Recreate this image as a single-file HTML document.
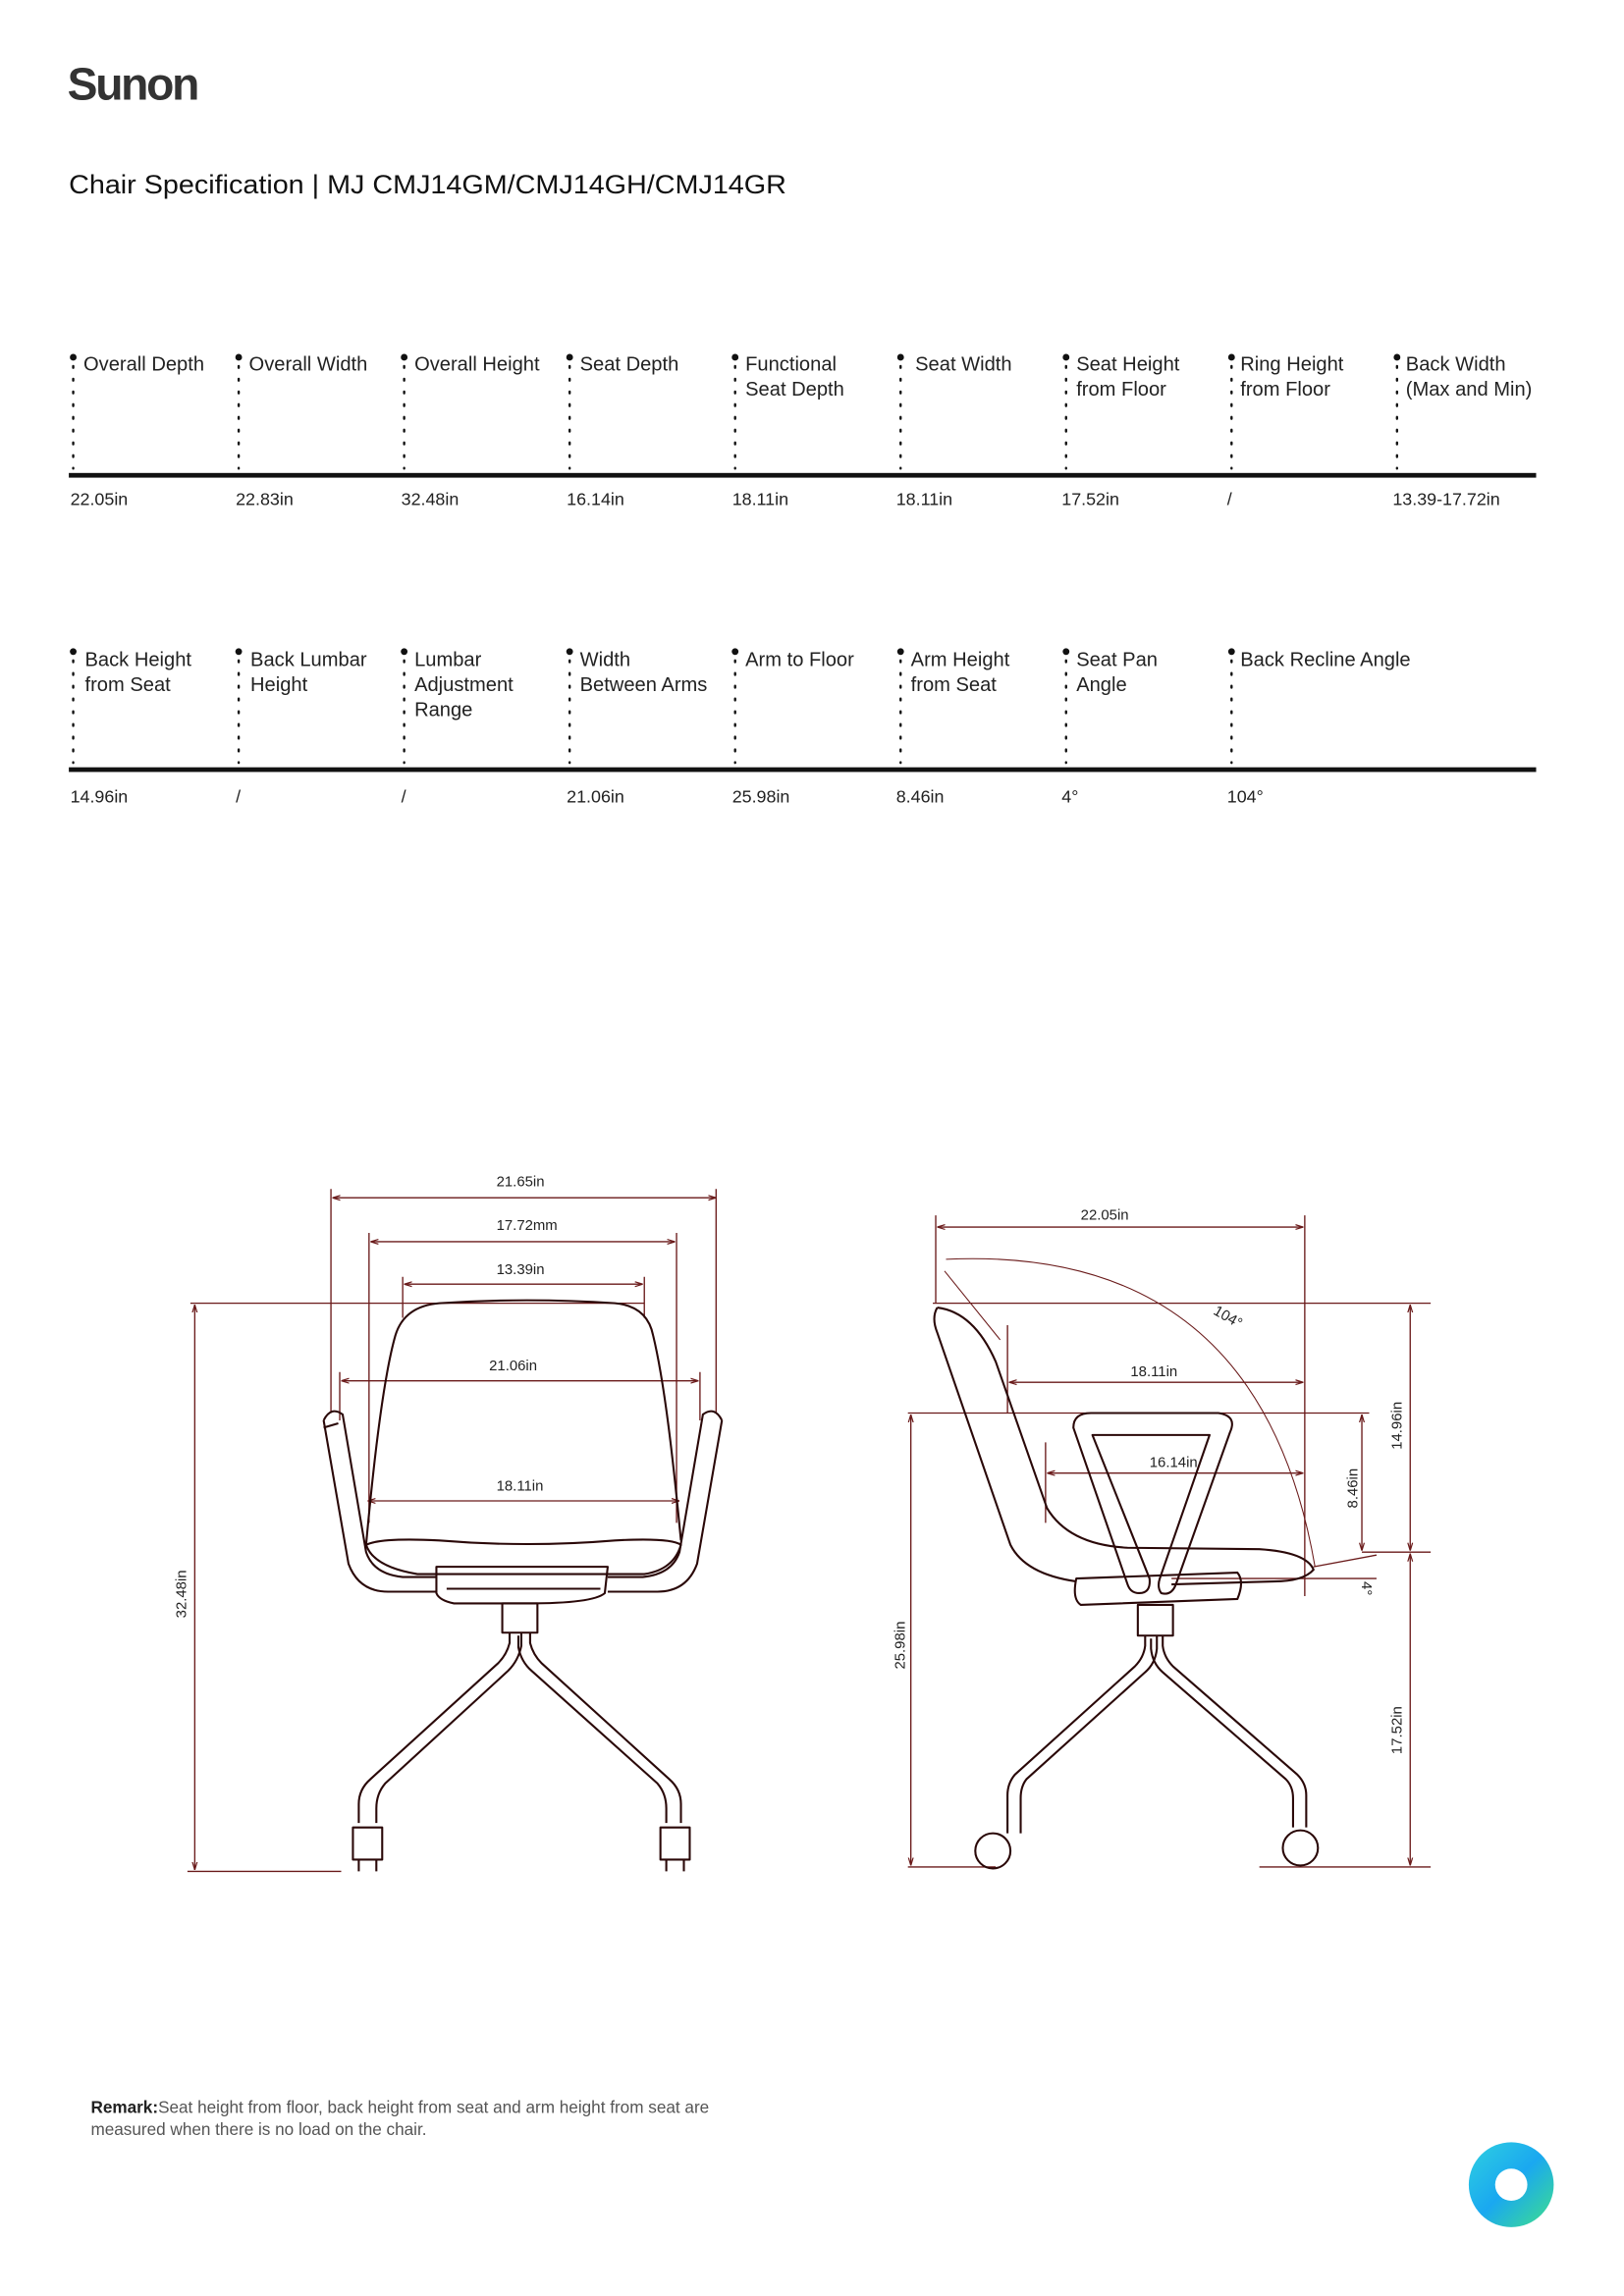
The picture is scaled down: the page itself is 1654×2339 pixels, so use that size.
<!DOCTYPE html>
<html><head><meta charset="utf-8"><style>
html,body{margin:0;padding:0;background:#fff}
svg{display:block}
text{font-family:"Liberation Sans",sans-serif}
</style></head><body>
<svg width="1654" height="2339" viewBox="0 0 1109 1568" preserveAspectRatio="none" xmlns="http://www.w3.org/2000/svg">
<defs>
<marker id="a" viewBox="0 0 10 10" refX="10" refY="5" markerWidth="6" markerHeight="6" orient="auto-start-reverse"><path d="M0,2 L10,5 L0,8" fill="none" stroke="#6a1a1a" stroke-width="1.5"/></marker>
<linearGradient id="g" x1="0" y1="0" x2="1" y2="1"><stop offset="0" stop-color="#2fd0e0"/><stop offset="0.5" stop-color="#1aa8f0"/><stop offset="1" stop-color="#3fe08a"/></linearGradient>
</defs>
<text x="46" y="68" font-size="31" font-weight="bold" fill="#333" letter-spacing="-1.5">Sunon</text>
<text x="47" y="132" font-size="18" fill="#111" textLength="490" lengthAdjust="spacingAndGlyphs">Chair Specification | MJ  CMJ14GM/CMJ14GH/CMJ14GR</text>

<g font-size="13.5" fill="#222">
<text x="57" y="253">Overall Depth</text>
<text x="170" y="253">Overall Width</text>
<text x="283" y="253">Overall Height</text>
<text x="396" y="253">Seat Depth</text>
<text x="509" y="253">Functional</text><text x="509" y="270">Seat Depth</text>
<text x="625" y="253">Seat Width</text>
<text x="735" y="253">Seat Height</text><text x="735" y="270">from Floor</text>
<text x="847" y="253">Ring Height</text><text x="847" y="270">from Floor</text>
<text x="960" y="253">Back Width</text><text x="960" y="270">(Max and Min)</text>
<text x="58" y="455">Back Height</text><text x="58" y="472">from Seat</text>
<text x="171" y="455">Back Lumbar</text><text x="171" y="472">Height</text>
<text x="283" y="455">Lumbar</text><text x="283" y="472">Adjustment</text><text x="283" y="489">Range</text>
<text x="396" y="455">Width</text><text x="396" y="472">Between Arms</text>
<text x="509" y="455">Arm to Floor</text>
<text x="622" y="455">Arm Height</text><text x="622" y="472">from Seat</text>
<text x="735" y="455">Seat Pan</text><text x="735" y="472">Angle</text>
<text x="847" y="455">Back Recline Angle</text>
</g>
<g fill="#111">
<circle cx="50" cy="244" r="2.3"/><circle cx="163" cy="244" r="2.3"/><circle cx="276" cy="244" r="2.3"/><circle cx="389" cy="244" r="2.3"/><circle cx="502" cy="244" r="2.3"/><circle cx="615" cy="244" r="2.3"/><circle cx="728" cy="244" r="2.3"/><circle cx="841" cy="244" r="2.3"/><circle cx="954" cy="244" r="2.3"/>
<circle cx="50" cy="445" r="2.3"/><circle cx="163" cy="445" r="2.3"/><circle cx="276" cy="445" r="2.3"/><circle cx="389" cy="445" r="2.3"/><circle cx="502" cy="445" r="2.3"/><circle cx="615" cy="445" r="2.3"/><circle cx="728" cy="445" r="2.3"/><circle cx="841" cy="445" r="2.3"/>
</g>
<g stroke="#111" stroke-width="1.6" stroke-dasharray="1.2 7.5" stroke-linecap="round">
<path d="M50 250V320M163 250V320M276 250V320M389 250V320M502 250V320M615 250V320M728 250V320M841 250V320M954 250V320"/>
<path d="M50 451V521M163 451V521M276 451V521M389 451V521M502 451V521M615 451V521M728 451V521M841 451V521"/>
</g>
<rect x="47" y="323" width="1002" height="3.2" fill="#111"/>
<rect x="47" y="524" width="1002" height="3.2" fill="#111"/>
<g font-size="12" fill="#222">
<text x="48" y="345">22.05in</text><text x="161" y="345">22.83in</text><text x="274" y="345">32.48in</text><text x="387" y="345">16.14in</text><text x="500" y="345">18.11in</text><text x="612" y="345">18.11in</text><text x="725" y="345">17.52in</text><text x="838" y="345">/</text><text x="951" y="345">13.39-17.72in</text>
<text x="48" y="548">14.96in</text><text x="161" y="548">/</text><text x="274" y="548">/</text><text x="387" y="548">21.06in</text><text x="500" y="548">25.98in</text><text x="612" y="548">8.46in</text><text x="725" y="548">4°</text><text x="838" y="548">104°</text>
</g>

<g stroke="#6a1a1a" stroke-width="0.9" fill="none">
<path d="M226 812V965M489 812V965M252 842V1040M462 842V1040M275 872V900M440 872V900M232 937V970M478 937V970"/>
<path d="M130 890H440M128 1278H233"/>
<path d="M227 818H489" marker-start="url(#a)" marker-end="url(#a)"/>
<path d="M253 848H461" marker-start="url(#a)" marker-end="url(#a)"/>
<path d="M276 877H439" marker-start="url(#a)" marker-end="url(#a)"/>
<path d="M233 943H477" marker-start="url(#a)" marker-end="url(#a)"/>
<path d="M251 1025H464" marker-start="url(#a)" marker-end="url(#a)"/>
<path d="M133 891V1277" marker-start="url(#a)" marker-end="url(#a)"/>
</g>
<g font-size="10" fill="#222">
<text x="339" y="810">21.65in</text><text x="339" y="840">17.72mm</text><text x="339" y="870">13.39in</text><text x="334" y="936">21.06in</text><text x="339" y="1018">18.11in</text>
<text transform="translate(127 1105) rotate(-90)">32.48in</text>
</g>
<g stroke="#2a0808" stroke-width="1.4" fill="none" stroke-linejoin="round">
<path d="M250 1055 C255 1000 262 940 270 912 Q276 892 300 890 Q360 886 420 890 Q442 892 446 912 C454 945 460 1000 465 1052"/>
<path d="M250 1055 Q260 1050 300 1052 Q360 1057 420 1052 Q458 1050 465 1055 Q460 1072 440 1075 L285 1075 Q255 1070 250 1055Z"/>
<path d="M221 970 Q226 960 234 966 L250 1060 Q255 1075 275 1077 L298 1077 M221 970 L238 1068 Q245 1087 265 1087 L298 1087"/>
<path d="M221 975 L231 972"/>
<path d="M493 970 Q488 960 480 966 L464 1060 Q459 1075 439 1077 L415 1077 M493 970 L476 1068 Q469 1087 449 1087 L415 1087"/>
<path d="M298 1070 L415 1070 L413 1088 Q405 1095 360 1095 L310 1095 Q300 1093 298 1088Z M305 1085 L410 1085"/>
<path d="M343 1095 H367 V1115 H343Z"/>
<path d="M348 1115 L348 1122 Q346 1130 340 1136 L253 1215 Q245 1222 245 1232 L245 1245 M356 1115 L356 1124 Q354 1134 347 1141 L263 1218 Q257 1225 257 1235 L257 1245"/>
<path d="M362 1115 L362 1122 Q364 1130 370 1136 L457 1215 Q465 1222 465 1232 L465 1245 M354 1117 L354 1125 Q356 1135 363 1141 L449 1218 Q455 1225 455 1235 L455 1245"/>
<path d="M241 1248 H261 V1270 H241Z M245 1270 V1278 M257 1270 V1278"/>
<path d="M451 1248 H471 V1270 H451Z M455 1270 V1278 M467 1270 V1278"/>
</g>

<g stroke="#6a1a1a" stroke-width="0.9" fill="none">
<path d="M639 830V890M891 830V1090M688 905V965M714 985V1040"/>
<path d="M637 890H977M620 965H935M930 1060H977M620 1275H680M860 1275H977"/>
<path d="M640 838H890" marker-start="url(#a)" marker-end="url(#a)"/>
<path d="M689 944H890" marker-start="url(#a)" marker-end="url(#a)"/>
<path d="M715 1006H890" marker-start="url(#a)" marker-end="url(#a)"/>
<path d="M963 891V1059" marker-start="url(#a)" marker-end="url(#a)"/>
<path d="M963 1061V1274" marker-start="url(#a)" marker-end="url(#a)"/>
<path d="M930 966V1059" marker-start="url(#a)" marker-end="url(#a)"/>
<path d="M622 966V1274" marker-start="url(#a)" marker-end="url(#a)"/>
<path d="M646 860 Q860 850 898 1070" stroke-width="0.7"/>
<path d="M645 868 L683 915" stroke-width="0.7"/>
<path d="M897 1070 L940 1062 M800 1078 L940 1078"/>
</g>
<g font-size="10" fill="#222">
<text x="738" y="833">22.05in</text><text x="772" y="940">18.11in</text><text x="785" y="1002">16.14in</text>
<text transform="translate(828 897) rotate(30)">104°</text>
<text transform="translate(957 990) rotate(-90)">14.96in</text>
<text transform="translate(927 1030) rotate(-90)">8.46in</text>
<text transform="translate(957 1198) rotate(-90)">17.52in</text>
<text transform="translate(618 1140) rotate(-90)">25.98in</text>
<text transform="translate(930 1080) rotate(90)">4°</text>
</g>
<g stroke="#2a0808" stroke-width="1.4" fill="none" stroke-linejoin="round">
<path d="M640 893 Q636 900 640 910 L690 1055 Q700 1075 735 1080"/>
<path d="M640 893 Q665 896 680 930 L715 1030 Q730 1055 770 1057 L860 1058 Q892 1060 897 1072 Q890 1080 870 1080 L800 1082"/>
<path d="M733 975 Q733 965 745 965 L832 965 Q845 967 840 978 L803 1082 Q800 1090 793 1088 Q790 1084 792 1078 L826 980 L746 980 L785 1078 Q786 1088 778 1088 Q772 1088 770 1082 Z"/>
<path d="M735 1078 L845 1074 Q850 1080 845 1092 L738 1096 Q732 1092 735 1078Z"/>
<path d="M777 1096 H801 V1117 H777Z"/>
<path d="M782 1117 V1124 Q781 1132 775 1138 L693 1212 Q688 1218 688 1226 V1252 M790 1117 V1126 Q789 1136 782 1142 L701 1215 Q697 1220 697 1228 V1252"/>
<path d="M794 1117 V1124 Q795 1132 801 1138 L886 1212 Q892 1218 892 1226 V1248 M786 1119 V1126 Q787 1136 794 1142 L878 1215 Q883 1220 883 1228 V1248"/>
<circle cx="678" cy="1264" r="12"/><circle cx="888" cy="1262" r="12"/>
</g>

<text x="62" y="1443" font-size="11.5" fill="#555"><tspan font-weight="bold" fill="#222">Remark:</tspan>Seat height from floor, back height from seat and arm height from seat are</text>
<text x="62" y="1458" font-size="11.5" fill="#555">measured when there is no load on the chair.</text>
<circle cx="1032" cy="1492" r="29" fill="url(#g)"/>
<circle cx="1032" cy="1492" r="11" fill="#fff"/>
</svg>
</body></html>
